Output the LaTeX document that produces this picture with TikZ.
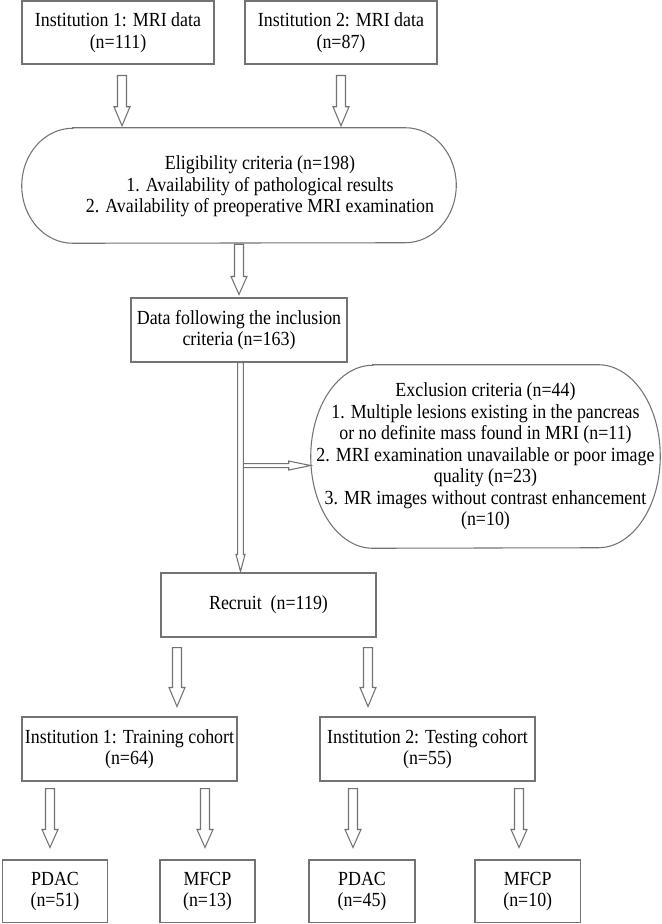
\documentclass[tikz,border=0pt]{standalone}
\usepackage{fontspec}
\setmainfont{Liberation Serif}[FakeStretch=0.895]
\usetikzlibrary{calc}
\tikzset{
  outl/.style={draw=black!55, line width=0.8pt},
  box/.style={outl, rectangle, align=center, inner sep=0pt, font=\fontsize{15}{16.1}\selectfont},
  txt/.style={align=center, inner sep=0pt, font=\fontsize{15}{16.1}\selectfont},
  sz/.style 2 args={minimum width=#1*0.75pt, minimum height=#2*0.75pt},
  barrow/.style={draw=black!55, line width=0.8pt, line join=miter},
}
% vertical hollow block arrow: start, end, half shaft, half head, head length (px)
\newcommand\varr[5]{\draw[barrow] let \p1=(#1), \p2=(#2) in
  (\x1-#3*0.75pt,\y1) -- (\x1-#3*0.75pt,\y2+#5*0.75pt) -- (\x1-#4*0.75pt,\y2+#5*0.75pt) -- (\x1,\y2)
  -- (\x1+#4*0.75pt,\y2+#5*0.75pt) -- (\x1+#3*0.75pt,\y2+#5*0.75pt) -- (\x1+#3*0.75pt,\y1) -- cycle;}
% horizontal hollow block arrow (open at its start)
\newcommand\harr[5]{\draw[barrow] let \p1=(#1), \p2=(#2) in
  (\x1,\y1+#3*0.75pt) -- (\x2-#5*0.75pt,\y1+#3*0.75pt) -- (\x2-#5*0.75pt,\y1+#4*0.75pt) -- (\x2,\y1)
  -- (\x2-#5*0.75pt,\y1-#4*0.75pt) -- (\x2-#5*0.75pt,\y1-#3*0.75pt) -- (\x1,\y1-#3*0.75pt);}
% stadium outline with elliptic ends round a node
\newcommand\stad[3]{\draw[outl] ([xshift=#2*0.75pt]#1.north west) -- ([xshift=-#2*0.75pt]#1.north east)
  arc[start angle=-90,end angle=90,x radius=#2,y radius=#3] -- ([xshift=#2*0.75pt]#1.south west)
  arc[start angle=90,end angle=270,x radius=#2,y radius=#3] -- cycle;}
\begin{document}
\begin{tikzpicture}[x=0.75pt,y=-0.75pt]
\useasboundingbox (0,0) rectangle (661,924);

\node[box, sz={192}{63}] (b1) at (118,32.5) {Institution 1: MRI data\\(n=111)};
\node[box, sz={192}{63}] (b2) at (341,32.5) {Institution 2: MRI data\\(n=87)};

\node[inner sep=0pt, sz={434}{115}] (elig) at (239,185.5) {};
\stad{elig}{51}{57.5}
\node[txt] (eligtxt) at (260,186.5) {Eligibility criteria (n=198)\\1. Availability of pathological results\\2. Availability of preoperative MRI examination};

\node[box, sz={216}{64}] (data) at (239,330) {Data following the inclusion\\criteria (n=163)};

\node[txt, sz={349}{183}] (excl) at (485.5,456.5) {Exclusion criteria (n=44)\\1. Multiple lesions existing in the pancreas\\or no definite mass found in MRI (n=11)\\2. MRI examination unavailable or poor image\\quality (n=23)\\3. MR images without contrast enhancement\\(n=10)};
\stad{excl}{62}{91.5}

\node[box, sz={215}{64}] (recruit) at (268.5,605) {Recruit\ \ (n=119)};

\node[box, sz={215}{64}] (train) at (129.5,749) {Institution 1: Training cohort\\(n=64)};
\node[box, sz={215}{64}] (test) at (427.5,749) {Institution 2: Testing cohort\\(n=55)};

\node[box, sz={105.5}{62.5}] (p1) at (55,891.25) {PDAC\\(n=51)};
\node[box, sz={95}{62.5}] (m1) at (207.5,891.25) {MFCP\\(n=13)};
\node[box, sz={106}{62.5}] (p2) at (362,891.25) {PDAC\\(n=45)};
\node[box, sz={105.5}{62.5}] (m2) at (527.75,891.25) {MFCP\\(n=10)};

% arrows
\varr{$(b1.south)+(4,11)$}{$(elig.north)+(-117,-2)$}{4.5}{8}{19}
\varr{$(b2.south)+(0,11)$}{$(elig.north)+(102,-2)$}{4.5}{8}{19}
\varr{$(elig.south)+(0,1)$}{$(data.north)+(0,-3)$}{4.5}{8}{18}
\varr{$(data.south)+(1.5,0)$}{$(recruit.north)+(-28,-1)$}{2.8}{4.5}{17}
\harr{$(data.south)+(4.3,103)$}{$(excl.west)+(0,8.5)$}{2}{4.5}{22}
\varr{$(recruit.south)+(-91.5,10)$}{$(train.north)+(47.5,-10)$}{4.5}{8}{19}
\varr{$(recruit.south)+(99.5,10)$}{$(test.north)+(-59.5,-10)$}{4.5}{8}{19}
\varr{$(train.south)+(-79.5,7)$}{$(p1.north)+(-5,-12)$}{4.5}{8}{18}
\varr{$(train.south)+(75.5,7)$}{$(m1.north)+(-2.5,-12)$}{4.5}{8}{18}
\varr{$(test.south)+(-74.5,7)$}{$(p2.north)+(-9,-12)$}{4.5}{8}{18}
\varr{$(test.south)+(91.5,7)$}{$(m2.north)+(-8.75,-12)$}{4.5}{8}{18}
\end{tikzpicture}
\end{document}
